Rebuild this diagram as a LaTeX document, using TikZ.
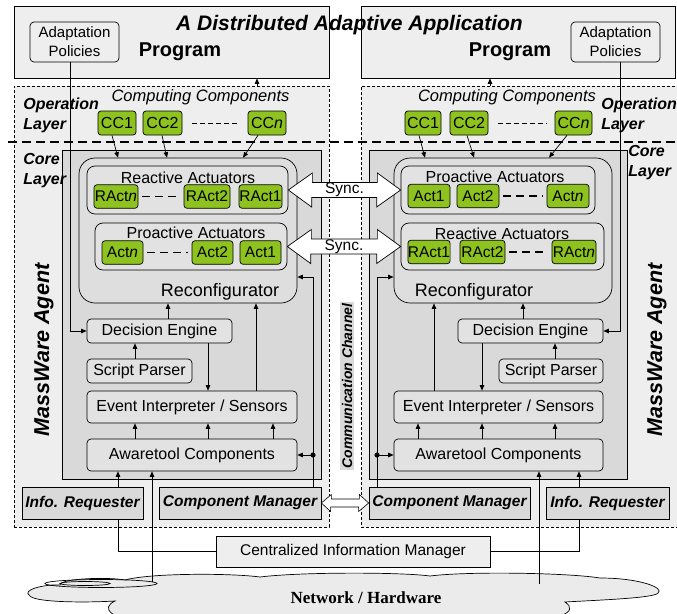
\documentclass[tikz,border=0pt]{standalone}
\usepackage{fontspec}
\setmainfont{Liberation Sans}
\newfontfamily\timesbold{Liberation Serif}
\usetikzlibrary{arrows.meta}

\definecolor{outergray}{HTML}{EEEEEE}
\definecolor{coregray}{HTML}{D9D9D9}
\definecolor{boxgray}{HTML}{E2E2E2}
\definecolor{actgreen}{HTML}{8DC21F}
\definecolor{cloudgray}{HTML}{EBEBEB}
\newcommand{\fsz}[1]{\fontsize{#1}{#1}\selectfont}

\begin{document}
\begin{tikzpicture}[x=1pt, y=-1pt, line width=0.7pt,
    >={Triangle[length=5.5pt,width=4.5pt]},
    frame/.style={draw, inner sep=0pt},
    box/.style={draw, rounded corners=4pt, fill=boxgray, inner sep=0pt, font=\fsz{16}},
    grp/.style={draw, rounded corners=8pt, fill=boxgray, inner sep=0pt},
    act/.style={draw, rounded corners=3pt, fill=actgreen, inner sep=0pt, minimum height=23.5pt, font=\fsz{15.5}},
    mgr/.style={draw, fill=coregray, inner sep=0pt, minimum height=32pt, font=\fsz{15.5}\bfseries\itshape},
    layer/.style={font=\fontsize{16}{20}\selectfont\bfseries\itshape, align=left, inner sep=0pt, anchor=west},
    sync/.style={draw, fill=white},
    actdash/.style={line width=1.6pt, dash pattern=on 8pt off 5pt, shorten <=4pt, shorten >=4pt}]

  \useasboundingbox (0,0) rectangle (677,613);
  \clip (0,0) rectangle (677,613);

  % outer layers
  \begin{scope}[every node/.style={frame, dash pattern=on 3pt off 2pt, fill=outergray, minimum height=441pt}]
    \node[minimum width=315pt] (opL) at (171.5,306.5) {};
    \node[minimum width=329pt] (opR) at (525.5,306.5) {};
  \end{scope}

  \begin{scope}[every node/.style={frame, fill=outergray, minimum height=72pt}]
    \node[minimum width=315pt] (progL) at (171.5,42) {};
    \node[minimum width=314pt] (progR) at (518,42) {};
  \end{scope}

  \node[font=\fsz{20}\bfseries] (prgL) at (180,52) {Program};
  \node[font=\fsz{20}\bfseries] (prgR) at (510,52) {Program};
  \node[font=\fsz{21}\bfseries\itshape] (title) at (349.5,25) {A Distributed Adaptive Application};

  \begin{scope}[every node/.style={box, fill=outergray, minimum width=89pt, minimum height=40pt,
      font=\fontsize{15}{19}\selectfont, align=center}]
    \node (apL) at (74.5,42) {Adaptation\\Policies};
    \node (apR) at (615.5,42) {Adaptation\\Policies};
  \end{scope}

  \draw[->] (opL.north -| 257,0) -- (progL.south -| 257,0);
  \draw[->] (opR.north -| 490,0) -- (progR.south -| 490,0);

  % core boxes
  \begin{scope}[every node/.style={frame, fill=coregray, minimum height=329pt}]
    \node[minimum width=259pt] (coreL) at (191.5,314.5) {};
    \node[minimum width=258pt] (coreR) at (498,314.5) {};
  \end{scope}

  \draw[line width=1.6pt, dash pattern=on 9pt off 5pt] (8,142) -- (677,142);

  \node[font=\fsz{16.5}\itshape] (compL) at (200.5,97) {Computing Components};
  \node[font=\fsz{16.5}\itshape] (compR) at (507,97) {Computing Components};
  \node[layer] (olL) at (23,115) {Operation\\Layer};
  \node[layer] (olR) at (601,115) {Operation\\Layer};
  \node[layer] (clL) at (23,171) {Core\\Layer};
  \node[layer] (clR) at (628,163) {Core\\Layer};

  \node[font=\fsz{21.5}\bfseries\itshape, rotate=90] (maL) at (44,350) {MassWare Agent};
  \node[font=\fsz{21.5}\bfseries\itshape, rotate=90] (maR) at (657,350) {MassWare Agent};

  % computing components
  \begin{scope}[every node/.style={act, minimum height=24pt, font=\fsz{16}}]
    \node[minimum width=38pt] (ccL1) at (117,123) {CC1};
    \node[minimum width=39pt] (ccL2) at (162.5,123) {CC2};
    \node[minimum width=38pt] (ccLn) at (267,123) {CC\textit{n}};
    \node[minimum width=36pt] (ccR1) at (423,123) {CC1};
    \node[minimum width=38pt] (ccR2) at (469,123) {CC2};
    \node[minimum width=37pt] (ccRn) at (573.5,123) {CC\textit{n}};
  \end{scope}
  \draw[dash pattern=on 5pt off 3pt, shorten <=10pt, shorten >=8pt] (ccL2) -- (ccLn);
  \draw[dash pattern=on 5pt off 3pt, shorten <=10pt, shorten >=8pt] (ccR2) -- (ccRn);

  % reconfigurators
  \begin{scope}[every node/.style={frame, rounded corners=16pt, fill=boxgray!60!coregray, minimum height=145pt}]
    \node[minimum width=218pt] (reconfL) at (188,230.5) {};
    \node[minimum width=218pt] (reconfR) at (503,230.5) {};
  \end{scope}
  \node[font=\fsz{18}] (rcL) at (220,292) {Reconfigurator};
  \node[font=\fsz{18}] (rcR) at (474,292) {Reconfigurator};

  \draw[->] (ccL1.south -| 112,0) -- (reconfL.north -| 118,0);
  \draw[->] (ccL2.south -| 162,0) -- (reconfL.north -| 167,0);
  \draw[->] (ccLn.south -| 258,0) -- (reconfL.north -| 243,0);
  \draw[->] (ccR1.south -| 419,0) -- (reconfR.north -| 425,0);
  \draw[->] (ccR2.south -| 467,0) -- (reconfR.north -| 474,0);
  \draw[->] (ccRn.south -| 567,0) -- (reconfR.north -| 549,0);

  % actuator groups
  \node[grp, minimum width=201pt, minimum height=48pt] (raL) at (187.5,190) {};
  \node[grp, minimum width=192pt, minimum height=47pt] (paL) at (191,246.5) {};
  \node[grp, minimum width=194pt, minimum height=48pt] (paR) at (498,190) {};
  \node[grp, minimum width=203pt, minimum height=47pt] (raR) at (502.5,246.5) {};

  \begin{scope}[every node/.style={font=\fsz{16}}]
    \node (raLt) at (188,178) {Reactive Actuators};
    \node (paLt) at (196,233) {Proactive Actuators};
    \node (paRt) at (495,176.5) {Proactive Actuators};
    \node (raRt) at (502,234) {Reactive Actuators};
  \end{scope}

  \begin{scope}[every node/.style={act}]
    \node[minimum width=44pt] (raLn) at (116,196.5) {RAct\textit{n}};
    \node[minimum width=46pt] (raL2) at (207,196.5) {RAct2};
    \node[minimum width=43pt] (raL1) at (260.5,196.5) {RAct1};
    \node[minimum width=41pt] (paLn) at (122.5,252.5) {Act\textit{n}};
    \node[minimum width=41pt] (paL2) at (212.5,252.5) {Act2};
    \node[minimum width=41pt] (paL1) at (260.5,252.5) {Act1};
    \node[minimum width=42pt] (paR1) at (429,196) {Act1};
    \node[minimum width=42pt] (paR2) at (478,196) {Act2};
    \node[minimum width=42pt] (paRn) at (568,196) {Act\textit{n}};
    \node[minimum width=42pt] (raR1) at (429,252) {RAct1};
    \node[minimum width=45pt] (raR2) at (482.5,252) {RAct2};
    \node[minimum width=44pt] (raRn) at (574,252) {RAct\textit{n}};
  \end{scope}
  \draw[actdash] (raLn) -- (raL2);
  \draw[actdash] (paLn) -- (paL2);
  \draw[actdash] (paR2) -- (paRn);
  \draw[actdash] (raR2) -- (raRn);

  % sync arrows
  \draw[sync] (raL.east) -- ++(24,-17) -- ++(0,9.5) -- ++(65,0) -- ++(0,-9.5) -- (paR.west)
    -- ++(-24,17) -- ++(0,-9.5) -- ++(-65,0) -- ++(0,9.5) -- cycle;
  \draw[sync] (paL.east) -- ++(24,-17) -- ++(0,9.5) -- ++(66,0) -- ++(0,-9.5) -- (raR.west)
    -- ++(-24,17) -- ++(0,-9.5) -- ++(-66,0) -- ++(0,9.5) -- cycle;
  \node[font=\fsz{15.5}] (syncA) at (344.5,190) {Sync.};
  \node[font=\fsz{15.5}] (syncB) at (344,246.5) {Sync.};

  % agent internals
  \node[box, minimum width=145pt, minimum height=24pt] (decL) at (159.5,331) {Decision Engine};
  \node[box, minimum width=105pt, minimum height=24pt] (spL) at (139.5,371) {Script Parser};
  \node[box, minimum width=210pt, minimum height=32pt] (eiL) at (192,407) {Event Interpreter / Sensors};
  \node[box, minimum width=210pt, minimum height=32pt] (atL) at (192,455) {Awaretool Components};

  \node[box, minimum width=145pt, minimum height=24pt] (decR) at (530.5,331) {Decision Engine};
  \node[box, minimum width=104pt, minimum height=24pt] (spR) at (551,371) {Script Parser};
  \node[box, minimum width=209pt, minimum height=32pt] (eiR) at (498.5,407) {Event Interpreter / Sensors};
  \node[box, minimum width=209pt, minimum height=32pt] (atR) at (498.5,455) {Awaretool Components};

  \draw[->] (spL.north -| 135,0) -- (decL.south -| 135,0);
  \draw[->] (decL.south -| 208,0) -- (eiL.north -| 208,0);
  \draw[->] (decL.north -| 168,0) -- (reconfL.south -| 168,0);
  \draw[->] (eiL.north -| 256,0) -- (reconfL.south -| 256,0);
  \foreach \x in {135,208,273}
    \draw[->] (atL.north -| \x,0) -- (eiL.south -| \x,0);

  \draw[->] (spR.north -| 555,0) -- (decR.south -| 555,0);
  \draw[->] (decR.south -| 482,0) -- (eiR.north -| 482,0);
  \draw[->] (decR.north -| 523,0) -- (reconfR.south -| 523,0);
  \draw[->] (eiR.north -| 434,0) -- (reconfR.south -| 434,0);
  \foreach \x in {418,482,555}
    \draw[->] (atR.north -| \x,0) -- (eiR.south -| \x,0);

  \draw[->] (apL.south -| 70,0) |- (decL.west);
  \draw[->] (apR.south -| 620,0) |- (decR.east);

  % managers
  \node[mgr, minimum width=121pt] (irL) at (82.5,503) {Info. Requester};
  \node[mgr, minimum width=162pt] (cmL) at (240,503) {Component Manager};
  \node[mgr, minimum width=161pt] (cmR) at (449.5,503) {Component Manager};
  \node[mgr, minimum width=123pt] (irR) at (607.5,503) {Info. Requester};

  \draw[->] (cmL.north -| 313,0) |- (reconfL.east |- 0,277);
  \draw[->] (cmR.north -| 377,0) |- (reconfR.west |- 0,277);
  \coordinate (jL) at (313,455);
  \coordinate (jR) at (377,455);
  \fill (jL) circle (2.6pt);
  \fill (jR) circle (2.6pt);
  \draw[->] (jL) -- (atL.east);
  \draw[->] (jR) -- (atR.west);

  \draw[sync, line width=0.6pt] (cmL.east) -- ++(10,-8.5) -- ++(0,4.5) -- ++(28,0) -- ++(0,-4.5) -- (cmR.west)
    -- ++(-10,8.5) -- ++(0,-4.5) -- ++(-28,0) -- ++(0,4.5) -- cycle;

  \node[rotate=90, fill=coregray, inner sep=2pt, font=\fsz{14}\bfseries\itshape] (chan) at (347,386)
    {Communication Channel};

  % information manager and network
  \node[frame, fill=outergray, minimum width=274pt, minimum height=31pt, font=\fsz{15.5}] (cim) at (353,551.5)
    {Centralized Information Manager};

  \draw[fill=cloudgray] (30,596) .. controls (20,590) and (45,584) .. (60,585)
    .. controls (60,578) and (110,577) .. (125,580)
    .. controls (150,573) and (230,573) .. (260,577)
    .. controls (300,572) and (400,572) .. (430,576)
    .. controls (470,571) and (570,573) .. (600,578)
    .. controls (640,578) and (665,588) .. (658,593)
    .. controls (655,598) and (600,600) .. (565,602)
    .. controls (580,612) and (560,622) .. (500,622)
    -- (150,622)
    .. controls (110,620) and (100,608) .. (115,601)
    .. controls (80,603) and (35,602) .. (30,596) -- cycle;
  \draw (101,583.5) ellipse (56pt and 4pt);
  \draw (85,583.5) ellipse (25pt and 2pt);
  \node[font=\timesbold\bfseries\fsz{17}] (net) at (366,598) {Network / Hardware};

  \coordinate (netL) at (152,582);
  \coordinate (netR) at (539,584);
  \draw[->] (netL) -- (atL.south -| 152,0);
  \draw[->] (netR) -- (atR.south -| 539,0);

  \draw[->] (irL.north -| 118,0) -- (atL.south -| 118,0);
  \draw[->] (irR.north -| 579,0) -- (atR.south -| 579,0);
  \draw (irL.south -| 118,0) |- (cim.west);
  \draw (irR.south -| 579,0) |- (cim.east);

\end{tikzpicture}
\end{document}
